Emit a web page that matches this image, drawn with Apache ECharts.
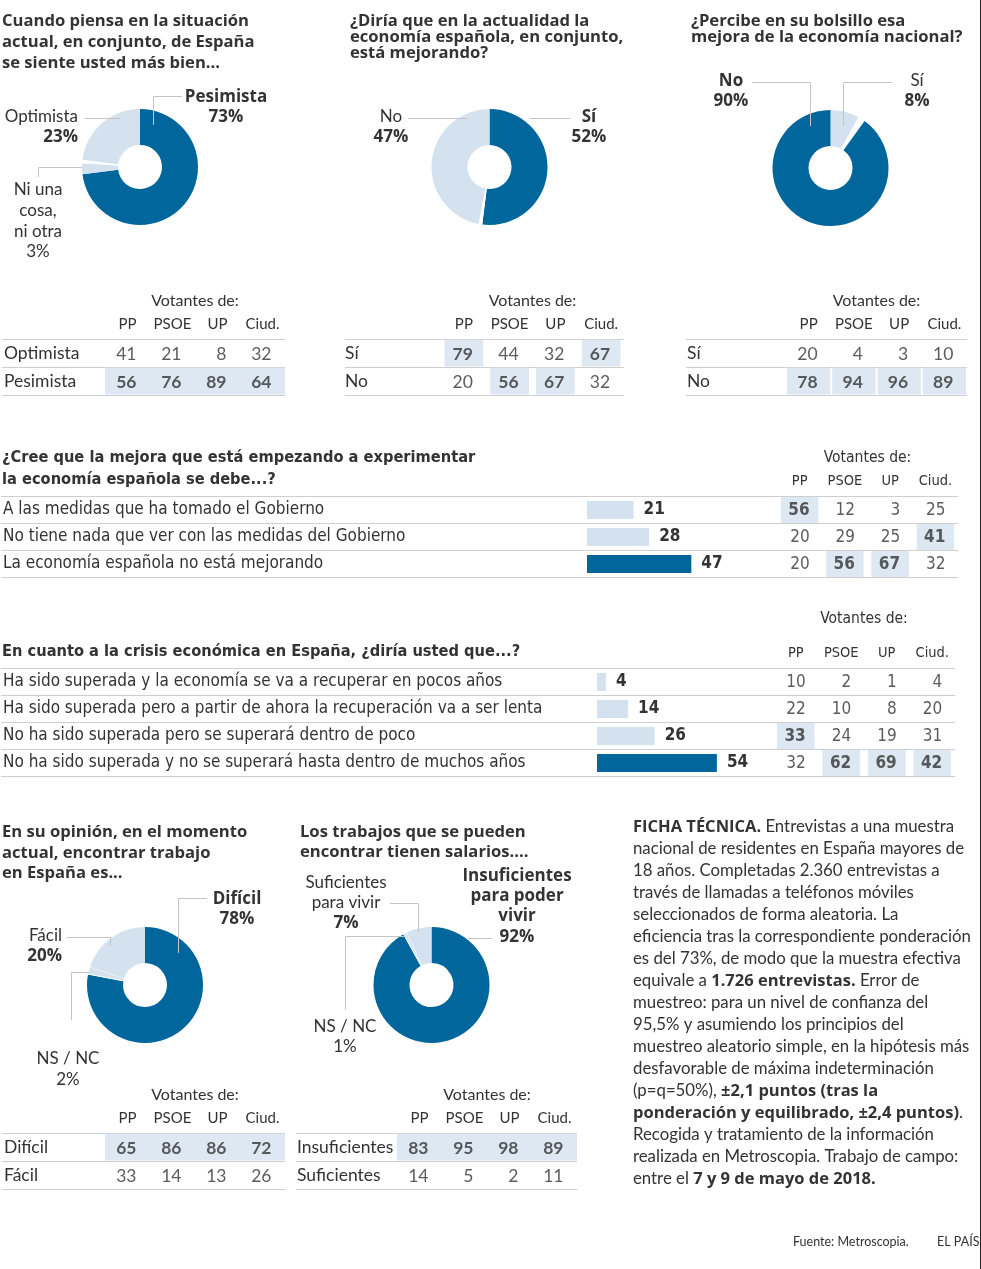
<!DOCTYPE html>
<html><head><meta charset="utf-8">
<script src="https://cdn.jsdelivr.net/npm/echarts@6/dist/echarts.min.js"></script>
<style>html,body{margin:0;padding:0;background:#fff}#c{width:981px;height:1269px}</style>
</head><body><div id="c"></div><script>
// ---------- DATA ----------
const parties = ['PP', 'PSOE', 'UP', 'Ciud.'];

const pie1Names = ['Pesimista', 'Ni una cosa, ni otra', 'Optimista'];
const pie1Values = [73, 3, 23];
const pie2Names = ['Sí', 'No'];
const pie2Values = [52, 47];
const pie3Names = ['Sí', 'No'];
const pie3Values = [8, 90];
const pie4Names = ['Difícil', 'NS / NC', 'Fácil'];
const pie4Values = [78, 2, 20];
const pie5Names = ['Insuficientes para poder vivir', 'NS / NC', 'Suficientes para vivir'];
const pie5Values = [92, 1, 7];

const t1Rows = ['Optimista', 'Pesimista'];
const t1Values = [[41, 21, 8, 32], [56, 76, 89, 64]];
const t2Rows = ['Sí', 'No'];
const t2Values = [[79, 44, 32, 67], [20, 56, 67, 32]];
const t3Rows = ['Sí', 'No'];
const t3Values = [[20, 4, 3, 10], [78, 94, 96, 89]];

const b1Cats = ['A las medidas que ha tomado el Gobierno', 'No tiene nada que ver con las medidas del Gobierno', 'La economía española no está mejorando'];
const b1Values = [21, 28, 47];
const b1Table = [[56, 12, 3, 25], [20, 29, 25, 41], [20, 56, 67, 32]];

const b2Cats = ['Ha sido superada y la economía se va a recuperar en pocos años', 'Ha sido superada pero a partir de ahora la recuperación va a ser lenta', 'No ha sido superada pero se superará dentro de poco', 'No ha sido superada y no se superará hasta dentro de muchos años'];
const b2Values = [4, 14, 26, 54];
const b2Table = [[10, 2, 1, 4], [22, 10, 8, 20], [33, 24, 19, 31], [32, 62, 69, 42]];

const t4Rows = ['Difícil', 'Fácil'];
const t4Values = [[65, 86, 86, 72], [33, 14, 13, 26]];
const t5Rows = ['Insuficientes', 'Suficientes'];
const t5Values = [[83, 95, 98, 89], [14, 5, 2, 11]];

// ---------- STYLE ----------
const DARK = '#00669c', LIGHT = '#d4e2ef', TXT = '#333333', RULE = '#cfcfcf', LEAD = '#c4c4c4';
const F = 'Lato, "Noto Sans", sans-serif';
const BF = '"Open Sans", Lato, sans-serif';
const N = '"DejaVu Sans Condensed", "Liberation Sans Narrow", sans-serif';

const grids = [], xAxes = [], yAxes = [], series = [], G = [];

function pieData(names, values, gapAt, borderAt) {
  const max = Math.max(...values);
  const items = values.map((v, i) => ({
    name: names[i], value: v,
    itemStyle: Object.assign({ color: v === max ? DARK : LIGHT },
      i === borderAt ? { borderColor: '#fff', borderWidth: 1 } : {})
  }));
  const gap = 100 - values.reduce((a, b) => a + b, 0);
  if (gap > 0 && gapAt != null) items.splice(gapAt, 0, { name: '', value: gap, itemStyle: { color: '#fff' } });
  return items;
}
function pie(center, data) {
  series.push({ type: 'pie', center, radius: [22, 58], startAngle: 90, clockwise: true, silent: true,
    avoidLabelOverlap: false, label: { show: false }, labelLine: { show: false }, data });
}
pie([140, 167], pieData(pie1Names, pie1Values, 2, null));
pie([489.5, 167], pieData(pie2Names, pie2Values, 1, null));
pie([830.5, 168], pieData(pie3Names, pie3Values, 1, null));
pie([145, 985], pieData(pie4Names, pie4Values, null, 1));
pie([431.5, 985], pieData(pie5Names, pie5Values, null, 1));

function makeTable(rows, values, c) {
  const gi = grids.length;
  const colW = c.width / parties.length;
  const colMax = parties.map((p, j) => Math.max(...values.map(r => r[j])));
  grids.push({ left: c.left, top: c.top, width: c.width, height: c.rowH * rows.length });
  xAxes.push({ gridIndex: gi, type: 'category', data: parties, position: 'top',
    axisLine: { show: false }, axisTick: { show: false }, splitLine: { show: false },
    axisLabel: { interval: 0, margin: c.hGap, fontSize: c.headSize, color: TXT, fontFamily: c.family },
    name: 'Votantes de:', nameLocation: 'middle', nameGap: c.nGap,
    nameTextStyle: { fontSize: c.headSize + 1, color: TXT, fontFamily: c.family } });
  yAxes.push({ gridIndex: gi, type: 'category', data: rows, inverse: true,
    axisLine: { show: false },
    axisTick: { show: true, interval: 0, length: c.left - c.lineLeft, lineStyle: { color: RULE } },
    splitLine: { show: true, interval: 0, lineStyle: { color: RULE } },
    axisLabel: { interval: 0, align: 'left', margin: c.left - c.labelX, fontSize: c.labelSize, color: TXT, fontFamily: c.family } });
  const data = [];
  values.forEach((r, i) => r.forEach((v, j) => {
    const hi = v === colMax[j];
    data.push({ value: [j, i, v], itemStyle: { color: hi ? LIGHT : 'rgba(0,0,0,0)' },
      label: { fontWeight: hi ? 'bold' : 'normal' } });
  }));
  series.push({ type: 'scatter', xAxisIndex: gi, yAxisIndex: gi, symbol: 'rect',
    symbolSize: [colW - c.gap, c.rowH - 1], silent: true, data,
    label: { show: true, position: 'inside', align: 'right', offset: [c.numOff, 1],
      formatter: p => p.value[2], fontSize: c.numSize, color: TXT, fontFamily: c.family } });
}
const topT = { top: 339, rowH: 28, hGap: 7, nGap: 30, family: F, labelSize: 17.5, numSize: 17.5, headSize: 15, numOff: 9 };
makeTable(t1Rows, t1Values, Object.assign({}, topT, { left: 105, width: 180, lineLeft: 2, labelX: 4, gap: 0 }));
makeTable(t2Rows, t2Values, Object.assign({}, topT, { left: 441, width: 183, lineLeft: 345, labelX: 345, gap: 7 }));
makeTable(t3Rows, t3Values, Object.assign({}, topT, { left: 786, width: 181, lineLeft: 686, labelX: 687, gap: 2 }));
const barT = { rowH: 27, hGap: 8, family: N, labelSize: 17, numSize: 17, headSize: 14.5, numOff: 10, lineLeft: 0, labelX: 2, gap: 8 };
makeTable(b1Cats, b1Table, Object.assign({}, barT, { left: 776, width: 182, top: 496.5, nGap: 31 }));
makeTable(b2Cats, b2Table, Object.assign({}, barT, { left: 772, width: 183, top: 668.5, nGap: 42 }));
const botT = Object.assign({}, topT, { top: 1133 });
makeTable(t4Rows, t4Values, Object.assign({}, botT, { left: 105, width: 180, lineLeft: 2, labelX: 4, gap: 0 }));
makeTable(t5Rows, t5Values, Object.assign({}, botT, { left: 397, width: 180, lineLeft: 296, labelX: 297, gap: 0 }));

function makeBars(cats, values, c) {
  const gi = grids.length;
  const max = Math.max(...values);
  grids.push({ left: c.left, top: c.top, width: 222, height: 27 * cats.length });
  xAxes.push({ gridIndex: gi, type: 'value', min: 0, max: 100, show: false });
  yAxes.push({ gridIndex: gi, type: 'category', data: cats, inverse: true, show: false });
  series.push({ type: 'bar', xAxisIndex: gi, yAxisIndex: gi, barWidth: 18, silent: true,
    data: values.map(v => ({ value: v, itemStyle: { color: v === max ? DARK : LIGHT } })),
    label: { show: true, position: 'right', distance: 10, fontWeight: 'bold', fontSize: 17, color: TXT, fontFamily: N } });
}
makeBars(b1Cats, b1Values, { left: 587, top: 496.5 });
makeBars(b2Cats, b2Values, { left: 597, top: 668.5 });

// ---------- TEXT & LEADERS ----------
function txt(x, y, text, o) {
  o = o || {};
  const align = o.align || 'left';
  const fam = o.family || (o.bold ? BF : F);
  G.push({ type: 'text', x, y, z: 100, silent: true,
    style: { text, fill: o.color || TXT, font: (o.bold ? 'bold ' : '') + (o.size || 17) + 'px ' + fam,
      textAlign: align, align, textVerticalAlign: 'middle', verticalAlign: 'middle' } });
}
function lead(points) {
  G.push({ type: 'polyline', z: 99, silent: true, shape: { points }, style: { stroke: LEAD, lineWidth: 1, fill: null } });
}
const B = { bold: true, size: 16.6 };
// titles
[['Cuando piensa en la situación', 21], ['actual, en conjunto, de España', 42], ['se siente usted más bien...', 63]]
  .forEach(([t, y]) => txt(2, y, t, B));
[['¿Diría que en la actualidad la', 21], ['economía española, en conjunto,', 37], ['está mejorando?', 53]]
  .forEach(([t, y]) => txt(350, y, t, B));
[['¿Percibe en su bolsillo esa', 21], ['mejora de la economía nacional?', 37]]
  .forEach(([t, y]) => txt(691, y, t, B));
[['¿Cree que la mejora que está empezando a experimentar', 458], ['la economía española se debe...?', 480]]
  .forEach(([t, y]) => txt(2, y, t, { bold: true, size: 16.3, family: N }));
txt(2, 652, 'En cuanto a la crisis económica en España, ¿diría usted que...?', { bold: true, size: 16.3, family: N });
[['En su opinión, en el momento', 832], ['actual, encontrar trabajo', 853], ['en España es...', 873]]
  .forEach(([t, y]) => txt(2, y, t, B));
[['Los trabajos que se pueden', 832], ['encontrar tienen salarios....', 852]]
  .forEach(([t, y]) => txt(300, y, t, B));

// pie 1 labels
lead([[153.5, 125], [153.5, 96.5], [182, 96.5]]);
txt(226, 97, pie1Names[0], { bold: true, align: 'center' });
txt(226, 117, pie1Values[0] + '%', { bold: true, align: 'center' });
lead([[85, 118.5], [120, 118.5]]);
txt(78, 117, pie1Names[2], { align: 'right' });
txt(78, 137, pie1Values[2] + '%', { bold: true, align: 'right' });
lead([[82, 167.5], [38.5, 167.5], [38.5, 177]]);
['Ni una', 'cosa,', 'ni otra'].forEach((t, i) => txt(38, 190 + 21 * i, t, { align: 'center' }));
txt(38, 252, pie1Values[1] + '%', { align: 'center' });

// pie 2 labels
lead([[408, 118.5], [468, 118.5]]);
txt(391, 117, pie2Names[1], { align: 'center' });
txt(391, 137, pie2Values[1] + '%', { bold: true, align: 'center' });
lead([[530, 118.5], [570, 118.5]]);
txt(589, 117, pie2Names[0], { bold: true, align: 'center' });
txt(589, 137, pie2Values[0] + '%', { bold: true, align: 'center' });

// pie 3 labels
lead([[752, 82.5], [810.5, 82.5], [810.5, 126]]);
txt(731, 81, pie3Names[1], { bold: true, align: 'center' });
txt(731, 101, pie3Values[1] + '%', { bold: true, align: 'center' });
lead([[892, 82.5], [843.5, 82.5], [843.5, 126]]);
txt(917, 81, pie3Names[0], { align: 'center' });
txt(917, 101, pie3Values[0] + '%', { bold: true, align: 'center' });

// pie 4 labels
lead([[178.5, 953], [178.5, 898.5], [207, 898.5]]);
txt(237, 899, pie4Names[0], { bold: true, align: 'center' });
txt(237, 919, pie4Values[0] + '%', { bold: true, align: 'center' });
lead([[67, 937.5], [110.5, 937.5], [110.5, 946]]);
txt(62, 936, pie4Names[2], { align: 'right' });
txt(62, 956, pie4Values[2] + '%', { bold: true, align: 'right' });
lead([[90, 972.5], [71.5, 972.5], [71.5, 1020]]);
txt(68, 1059, pie4Names[1], { align: 'center' });
txt(68, 1080, pie4Values[1] + '%', { align: 'center' });

// pie 5 labels
lead([[390, 903.5], [418.5, 903.5], [418.5, 932]]);
txt(346, 883, 'Suficientes', { align: 'center' });
txt(346, 903, 'para vivir', { align: 'center' });
txt(346, 923, pie5Values[2] + '%', { bold: true, align: 'center' });
lead([[468, 938.5], [492, 938.5]]);
['Insuficientes', 'para poder', 'vivir'].forEach((t, i) => txt(517, 876 + 20 * i, t, { bold: true, align: 'center' }));
txt(517, 937, pie5Values[0] + '%', { bold: true, align: 'center' });
lead([[405, 936.5], [345.5, 936.5], [345.5, 1010]]);
txt(345, 1027, pie5Names[1], { align: 'center' });
txt(345, 1047, pie5Values[1] + '%', { align: 'center' });

// ficha técnica
const ficha = [
  '{b|FICHA TÉCNICA.} Entrevistas a una muestra',
  'nacional de residentes en España mayores de',
  '18 años. Completadas 2.360 entrevistas a',
  'través de llamadas a teléfonos móviles',
  'seleccionados de forma aleatoria. La',
  'eficiencia tras la correspondiente ponderación',
  'es del 73%, de modo que la muestra efectiva',
  'equivale a {b|1.726 entrevistas.} Error de',
  'muestreo: para un nivel de confianza del',
  '95,5% y asumiendo los principios del',
  'muestreo aleatorio simple, en la hipótesis más',
  'desfavorable de máxima indeterminación',
  '(p=q=50%), {b|±2,1 puntos (tras la}',
  '{b|ponderación y equilibrado, ±2,4 puntos)}.',
  'Recogida y tratamiento de la información',
  'realizada en Metroscopia. Trabajo de campo:',
  'entre el {b|7 y 9 de mayo de 2018.}'
];
ficha.forEach((t, i) => G.push({ type: 'text', x: 633, y: 827 + 22 * i, z: 100, silent: true,
  style: { text: t, fill: TXT, font: '16.8px ' + F, textVerticalAlign: 'middle', verticalAlign: 'middle',
    rich: { b: { fontWeight: 'bold', fontSize: 16.5, fontFamily: BF, fill: TXT } } } }));

txt(793, 1242, 'Fuente: Metroscopia.', { size: 12.5 });
txt(937, 1242, 'EL PAÍS', { size: 12.5 });
G.push({ type: 'rect', z: 100, silent: true, shape: { x: 980, y: 0, width: 1, height: 1269 }, style: { fill: '#222' } });

const chart = echarts.init(document.getElementById('c'), null, { renderer: 'canvas' });
chart.setOption({
  animation: false, backgroundColor: '#fff',
  grid: grids, xAxis: xAxes, yAxis: yAxes, series, graphic: G
});
</script></body></html>
